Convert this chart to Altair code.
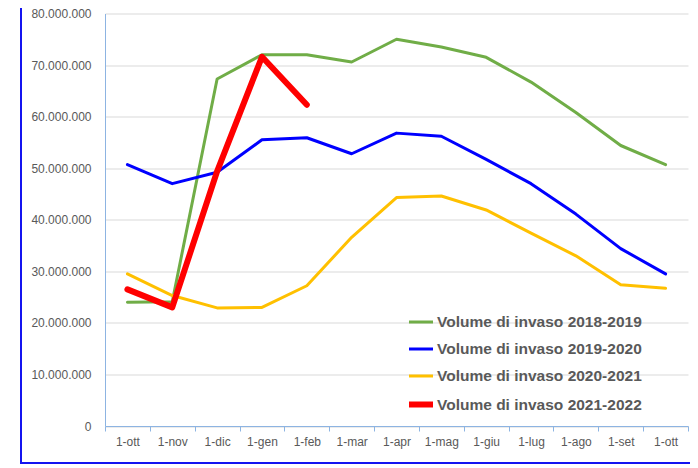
import altair as alt
import pandas as pd

months = ["1-ott", "1-nov", "1-dic", "1-gen", "1-feb", "1-mar", "1-apr",
          "1-mag", "1-giu", "1-lug", "1-ago", "1-set", "1-ott"]

series_names = ["Volume di invaso 2018-2019", "Volume di invaso 2019-2020",
                "Volume di invaso 2020-2021", "Volume di invaso 2021-2022"]

v2018_2019 = [24000000, 24100000, 67300000, 72000000, 72000000, 70600000, 75000000,
              73500000, 71500000, 66700000, 60800000, 54400000, 50700000]
v2019_2020 = [50700000, 47000000, 49200000, 55500000, 55900000, 52800000, 56800000,
              56200000, 51700000, 47000000, 41100000, 34400000, 29500000]
v2020_2021 = [29500000, 25300000, 22900000, 23000000, 27200000, 36600000, 44300000,
              44600000, 41900000, 37400000, 33000000, 27400000, 26700000]
v2021_2022 = [26500000, 23000000, 49400000, 71600000, 62300000]

colors = ["#70ad47", "#0000ff", "#ffc000", "#ff0000"]
widths = [3, 3, 3, 6]

rows = []
for name, vals in zip(series_names, [v2018_2019, v2019_2020, v2020_2021, v2021_2022]):
    for i, v in enumerate(vals):
        rows.append({"idx": i, "series": name, "value": v})
df = pd.DataFrame(rows)

label_array = "[" + ",".join("'" + m + "'" for m in months) + "]"

axis_blue = "#8db4e2"
text_gray = "#595959"

def make_legend():
    return alt.Legend(title=None, orient="none", legendX=301, legendY=295,
                      symbolType="stroke", symbolSize=576,
                      rowPadding=5, padding=0, labelOffset=1,
                      labelFontSize=15.5, labelFontWeight="bold",
                      labelColor=text_gray, labelFont="Liberation Sans",
                      labelLimit=400)

lines = alt.Chart(df).mark_line(strokeCap="round", strokeJoin="round").encode(
    x=alt.X("idx:O", bandPosition=0.5,
            scale=alt.Scale(type="band", paddingInner=0, paddingOuter=0),
            axis=alt.Axis(title=None, labelAngle=0, tickBand="extent", ticks=True,
                          tickSize=5, tickColor=axis_blue, domainColor=axis_blue,
                          labelColor=text_gray, labelFontSize=12, labelPadding=5,
                          labelFont="Liberation Sans", grid=False,
                          labelExpr=label_array + "[datum.value]")),
    y=alt.Y("value:Q", scale=alt.Scale(domain=[0, 80000000]),
            axis=alt.Axis(title=None, values=list(range(0, 80000001, 10000000)),
                          ticks=False, domainColor=axis_blue, gridColor="#d9d9d9",
                          labelColor=text_gray, labelFontSize=12, labelPadding=14,
                          labelFont="Liberation Sans",
                          labelExpr="join(split(format(datum.value, ',d'), ','), '.')")),
    color=alt.Color("series:N", sort=series_names,
                    scale=alt.Scale(domain=series_names, range=colors),
                    legend=make_legend()),
    strokeWidth=alt.StrokeWidth("series:N", sort=series_names,
                                scale=alt.Scale(type="ordinal", domain=series_names, range=widths),
                                legend=make_legend()),
)

frame_df = pd.DataFrame({"k": [0]})
left_border = alt.Chart(frame_df).mark_rule(color="#1414f0", strokeWidth=2).encode(
    x=alt.value(-84), y=alt.value(-20), y2=alt.value(450))
bottom_border = alt.Chart(frame_df).mark_rule(color="#1414f0", strokeWidth=2).encode(
    x=alt.value(-85), x2=alt.value(700), y=alt.value(449.5))

chart = alt.layer(lines, left_border, bottom_border).properties(
    width=583, height=412.5,
    autosize=alt.AutoSizeParams(type="none"),
    padding={"left": 97, "top": 5.5, "right": 2, "bottom": 40},
    background="white",
).configure_view(stroke=None)

chart.save("out.html", embed_options={"renderer": "svg", "actions": False})
